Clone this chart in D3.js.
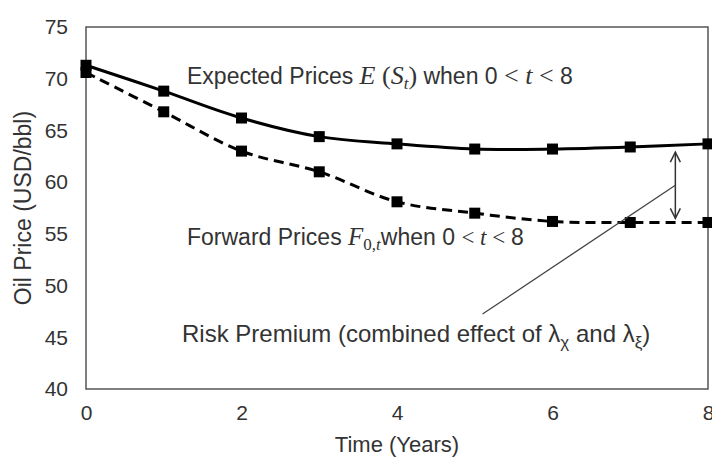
<!DOCTYPE html>
<html>
<head>
<meta charset="utf-8">
<script src="https://cdn.jsdelivr.net/npm/d3@7"></script>
<style>
  body { margin: 0; background: #fff; }
  text { font-family: "Liberation Sans", Arial, sans-serif; fill: #333; }
  .math { font-family: "Liberation Serif", "Times New Roman", serif; font-style: italic; }
</style>
</head>
<body>
<div id="chart"></div>
<script>
// chart values
const years = [0, 1, 2, 3, 4, 5, 6, 7, 8];
const expectedPrices = [71.3, 68.8, 66.2, 64.4, 63.7, 63.2, 63.2, 63.4, 63.7];
const forwardPrices = [70.6, 66.8, 63.0, 61.0, 58.1, 57.0, 56.2, 56.1, 56.1];
const xTicks = [0, 2, 4, 6, 8];
const yTicks = [40, 45, 50, 55, 60, 65, 70, 75];

const margin = { top: 27, right: 4, bottom: 68, left: 86 },
      width = 712 - margin.left - margin.right,
      height = 457 - margin.top - margin.bottom;

const svg = d3.select("#chart").append("svg")
    .attr("width", 712)
    .attr("height", 457)
    .append("g")
    .attr("transform", `translate(${margin.left},${margin.top})`);

const x = d3.scaleLinear().domain([0, 8]).range([0, width]);
const y = d3.scaleLinear().domain([40, 75]).range([height, 0]);

// frame
svg.append("rect")
    .attr("width", width)
    .attr("height", height)
    .attr("fill", "none")
    .attr("stroke", "#555")
    .attr("stroke-width", 1.5);

// axes (labels only, the frame draws the lines)
const xAxis = svg.append("g")
    .attr("transform", `translate(0,${height})`)
    .call(d3.axisBottom(x).tickValues(xTicks).tickSize(0).tickPadding(16));
const yAxis = svg.append("g")
    .call(d3.axisLeft(y).tickValues(yTicks).tickSize(0).tickPadding(18));
[xAxis, yAxis].forEach(a => {
    a.select(".domain").remove();
    a.selectAll("text").style("font-size", "21px").attr("fill", "#333")
        .style("font-family", "'Liberation Sans', Arial, sans-serif");
});

// axis titles
svg.append("text")
    .attr("x", width / 2)
    .attr("y", height + 63)
    .style("text-anchor", "middle")
    .style("font-size", "22px")
    .text("Time (Years)");
svg.append("text")
    .attr("transform", "rotate(-90)")
    .attr("x", -(y(57.5)))
    .attr("y", -55)
    .style("text-anchor", "middle")
    .style("font-size", "23px")
    .text("Oil Price (USD/bbl)");

const line = d3.line()
    .x((d, i) => x(years[i]))
    .y(d => y(d))
    .curve(d3.curveCatmullRom);

// series
const series = [
    { values: expectedPrices, dash: null },
    { values: forwardPrices, dash: "10,6" }
];
series.forEach(s => {
    svg.append("path")
        .datum(s.values)
        .attr("d", line)
        .attr("fill", "none")
        .attr("stroke", "#000")
        .attr("stroke-width", 3)
        .attr("stroke-dasharray", s.dash);
    svg.selectAll(null)
        .data(s.values)
        .enter().append("rect")
        .attr("x", (d, i) => x(years[i]) - 5.5)
        .attr("y", d => y(d) - 5.5)
        .attr("width", 11)
        .attr("height", 11)
        .attr("fill", "#000");
});

// annotations
const fs = "23px", sub = "17px", mfs = "26px";
const exp = svg.append("text").attr("x", 101).attr("y", 57).style("font-size", fs);
exp.append("tspan").text("Expected Prices ");
exp.append("tspan").attr("class", "math").style("font-size", mfs).text("E");
exp.append("tspan").attr("class", "math").style("font-size", mfs).style("font-style", "normal").text(" (");
exp.append("tspan").attr("class", "math").style("font-size", mfs).text("S");
exp.append("tspan").attr("class", "math").attr("dy", 5).style("font-size", sub).text("t");
exp.append("tspan").attr("class", "math").attr("dy", -5).style("font-size", mfs).style("font-style", "normal").text(")");
exp.append("tspan").text(" when 0 ");
exp.append("tspan").attr("class", "math").style("font-size", mfs).style("font-style", "normal").text(" < ");
exp.append("tspan").attr("class", "math").style("font-size", mfs).text("t");
exp.append("tspan").attr("class", "math").style("font-size", mfs).style("font-style", "normal").text(" < ");
exp.append("tspan").text(" 8");

const fwd = svg.append("text").attr("x", 101).attr("y", 218).style("font-size", fs);
fwd.append("tspan").text("Forward Prices ");
fwd.append("tspan").attr("class", "math").style("font-size", "25px").text("F");
fwd.append("tspan").attr("class", "math").attr("dy", 5).style("font-size", sub).style("font-style", "normal").text("0,");
fwd.append("tspan").attr("class", "math").style("font-size", sub).text("t");
fwd.append("tspan").attr("dy", -5).text("when 0 ");
fwd.append("tspan").attr("class", "math").style("font-style", "normal").text(" < ");
fwd.append("tspan").attr("class", "math").text("t");
fwd.append("tspan").attr("class", "math").style("font-style", "normal").text(" < ");
fwd.append("tspan").text(" 8");

const risk = svg.append("text").attr("x", 96).attr("y", 315).style("font-size", "24px");
risk.append("tspan").text("Risk Premium (combined effect of λ");
risk.append("tspan").attr("dy", 6).style("font-size", sub).text("χ");
risk.append("tspan").attr("dy", -6).text(" and λ");
risk.append("tspan").attr("dy", 6).style("font-size", sub).text("ξ");
risk.append("tspan").attr("dy", -6).text(")");

// risk premium arrow and pointer
const arrowX = x(7.58), yTop = y(62.9), yBot = y(56.5);
svg.append("line")
    .attr("x1", arrowX).attr("x2", arrowX)
    .attr("y1", yTop).attr("y2", yBot)
    .attr("stroke", "#333").attr("stroke-width", 1.5);
[[yTop, 1], [yBot, -1]].forEach(([yy, dir]) => {
    svg.append("path")
        .attr("d", `M${arrowX - 5},${yy + dir * 10}L${arrowX},${yy}L${arrowX + 5},${yy + dir * 10}`)
        .attr("fill", "none").attr("stroke", "#333").attr("stroke-width", 1.5);
});
svg.append("line")
    .attr("x1", arrowX).attr("y1", y(59.7))
    .attr("x2", x(5.1)).attr("y2", y(47.25))
    .attr("stroke", "#444").attr("stroke-width", 1.3);
</script>
</body>
</html>
